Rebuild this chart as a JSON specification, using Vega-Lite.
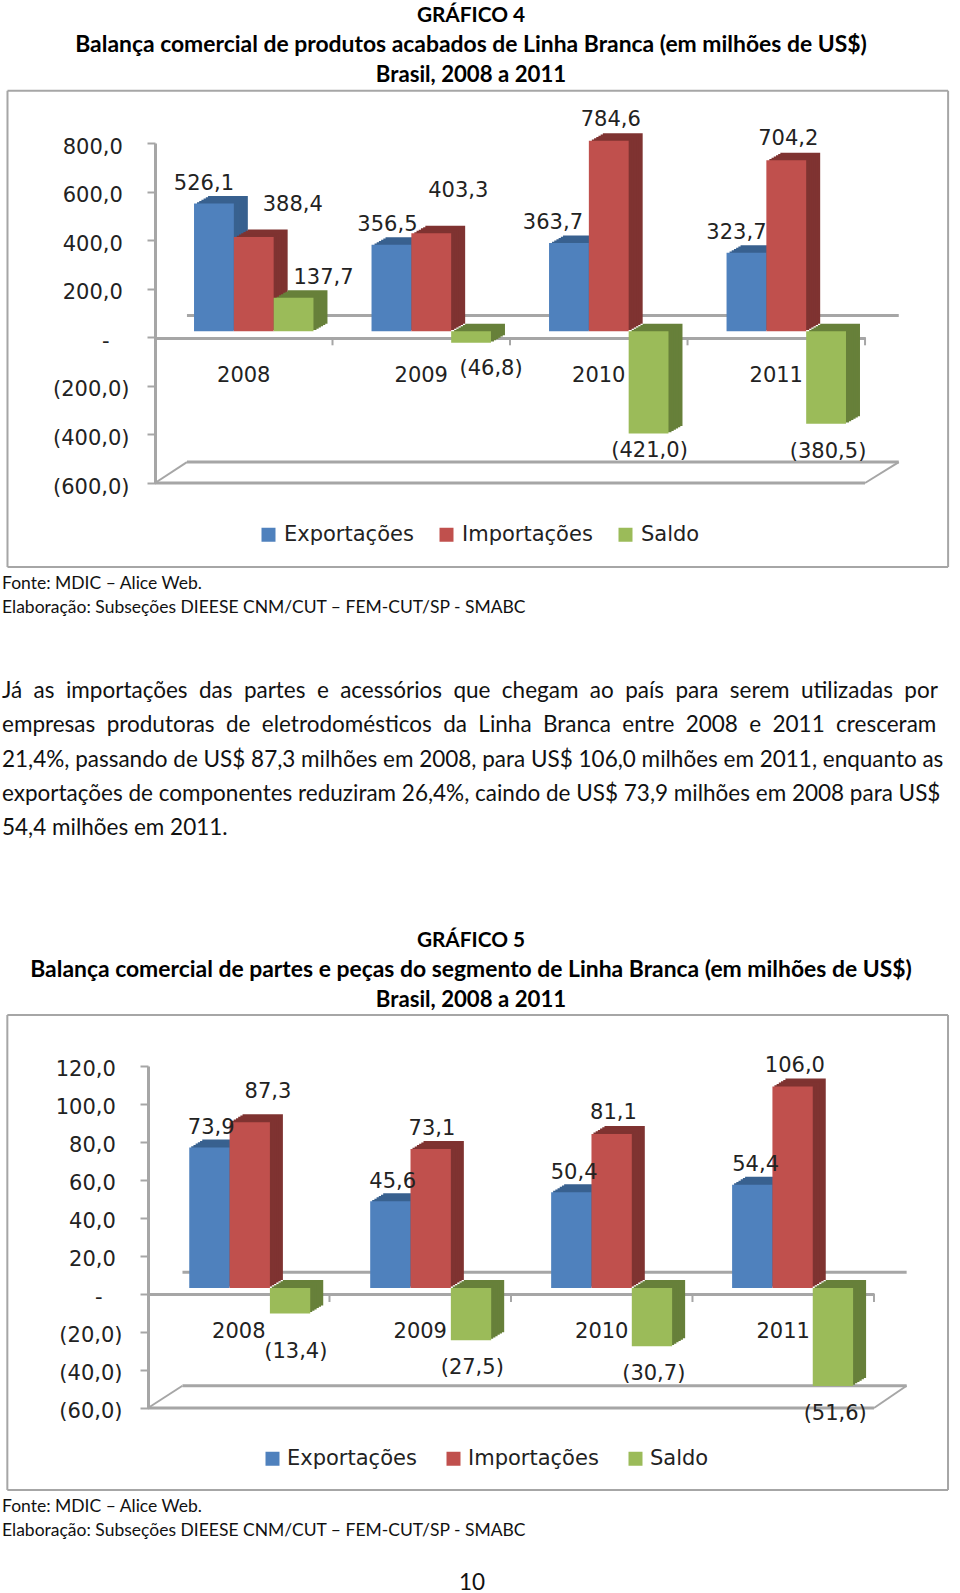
{"$schema":"https://vega.github.io/schema/vega-lite/v6.json","padding":0,"spacing":0,"bounds":"flush","background":"white","config":{"view":{"stroke":null},"concat":{"spacing":0}},
"datasets":{
"g4":[{"ano":"2008","serie":"Exportações","valor":526.1,"rotulo":"526,1"},{"ano":"2008","serie":"Importações","valor":388.4,"rotulo":"388,4"},{"ano":"2008","serie":"Saldo","valor":137.7,"rotulo":"137,7"},{"ano":"2009","serie":"Exportações","valor":356.5,"rotulo":"356,5"},{"ano":"2009","serie":"Importações","valor":403.3,"rotulo":"403,3"},{"ano":"2009","serie":"Saldo","valor":-46.8,"rotulo":"(46,8)"},{"ano":"2010","serie":"Exportações","valor":363.7,"rotulo":"363,7"},{"ano":"2010","serie":"Importações","valor":784.6,"rotulo":"784,6"},{"ano":"2010","serie":"Saldo","valor":-421.0,"rotulo":"(421,0)"},{"ano":"2011","serie":"Exportações","valor":323.7,"rotulo":"323,7"},{"ano":"2011","serie":"Importações","valor":704.2,"rotulo":"704,2"},{"ano":"2011","serie":"Saldo","valor":-380.5,"rotulo":"(380,5)"}],
"g5":[{"ano":"2008","serie":"Exportações","valor":73.9,"rotulo":"73,9"},{"ano":"2008","serie":"Importações","valor":87.3,"rotulo":"87,3"},{"ano":"2008","serie":"Saldo","valor":-13.4,"rotulo":"(13,4)"},{"ano":"2009","serie":"Exportações","valor":45.6,"rotulo":"45,6"},{"ano":"2009","serie":"Importações","valor":73.1,"rotulo":"73,1"},{"ano":"2009","serie":"Saldo","valor":-27.5,"rotulo":"(27,5)"},{"ano":"2010","serie":"Exportações","valor":50.4,"rotulo":"50,4"},{"ano":"2010","serie":"Importações","valor":81.1,"rotulo":"81,1"},{"ano":"2010","serie":"Saldo","valor":-30.7,"rotulo":"(30,7)"},{"ano":"2011","serie":"Exportações","valor":54.4,"rotulo":"54,4"},{"ano":"2011","serie":"Importações","valor":106.0,"rotulo":"106,0"},{"ano":"2011","serie":"Saldo","valor":-51.6,"rotulo":"(51,6)"}],
"quadro4":[{"u":-0.831,"u2":4.468,"v":1015,"v2":1015},{"u":-0.831,"u2":4.468,"v":-946,"v2":-946},{"u":-0.831,"u2":-0.831,"v":1015,"v2":-946},{"u":4.468,"u2":4.468,"v":1015,"v2":-946},{"u":0,"u2":0,"v":0,"v2":-33},{"u":1,"u2":1,"v":0,"v2":-33},{"u":2,"u2":2,"v":0,"v2":-33},{"u":3,"u2":3,"v":0,"v2":-33},{"u":4,"u2":4,"v":0,"v2":-33},{"u":0,"u2":0.18,"v":-600,"v2":-514},{"u":4,"u2":4.19,"v":-600,"v2":-514}],
"piso4":[{"u":0.18,"u2":4.19,"v":90,"v2":90},{"u":0,"u2":4,"v":-600,"v2":-600},{"u":0.18,"u2":4.19,"v":-514,"v2":-514}],
"quadro5":[{"u":-0.775,"u2":4.408,"v":146.8,"v2":146.8},{"u":-0.775,"u2":4.408,"v":-103.2,"v2":-103.2},{"u":-0.775,"u2":-0.775,"v":146.8,"v2":-103.2},{"u":4.408,"u2":4.408,"v":146.8,"v2":-103.2},{"u":0,"u2":0,"v":0,"v2":-4.2},{"u":1,"u2":1,"v":0,"v2":-4.2},{"u":2,"u2":2,"v":0,"v2":-4.2},{"u":3,"u2":3,"v":0,"v2":-4.2},{"u":4,"u2":4,"v":0,"v2":-4.2},{"u":0,"u2":0.19,"v":-60,"v2":-48.3},{"u":4,"u2":4.18,"v":-60,"v2":-48.3}],
"piso5":[{"u":0.19,"u2":4.18,"v":11.4,"v2":11.4},{"u":0,"u2":4,"v":-60,"v2":-60},{"u":0.19,"u2":4.18,"v":-48.3,"v2":-48.3}]
},
"vconcat":[
{"width":960,"height":88,"data":{"values":[{"n":1,"t":"GRÁFICO 4"},{"n":2,"t":"Balança comercial de produtos acabados de Linha Branca (em milhões de US$)"},{"n":3,"t":"Brasil, 2008 a 2011"}]},"mark":{"type":"text","font":"Lato","fontWeight":"bold","fontSize":{"expr":"datum.n==2?22.9:(datum.n==1?20.8:22.2)"},"align":"center","baseline":"middle","color":"#000"},"encoding":{"x":{"datum":0.5,"type":"quantitative","axis":null,"scale":{"domain":[0,1],"range":[0,942]}},"y":{"field":"n","type":"ordinal","axis":null,"scale":{"type":"point","padding":0,"range":[15.5,75]}},"text":{"field":"t"}}},
{"width":960,"height":482,"resolve":{"scale":{"x":"independent"}},"layer":[
{"encoding":{"x":{"field":"u","type":"quantitative","axis":null,"scale":{"domain":[-0.8732,4.535],"range":[0,960]}},"x2":{"field":"u2"},"y":{"field":"v","type":"quantitative","title":null,"scale":{"domain":[-600,800],"range":[395,55],"nice":false,"zero":false},"axis":{"orient":"left","offset":-155,"values":[-600,-400,-200,0,200,400,600,800],"grid":false,"labelFont":"DejaVu Sans","labelFontSize":21,"labelColor":"#222","labelPadding":18,"labelOffset":4,"tickSize":8,"tickWidth":2,"tickColor":"#a6a6a6","domainColor":"#a6a6a6","domainWidth":3,"labelExpr":"datum.value==0?'-\u00a0\u00a0\u00a0\u200b':(datum.value<0?'('+replace(format(-datum.value,'.1f'),'.',',')+')':replace(format(datum.value,'.1f'),'.',',')+'\u00a0\u200b')"}},"y2":{"field":"v2"}},
"layer":[
{"data":{"name":"quadro4"},"mark":{"type":"rule","color":"#a6a6a6","strokeWidth":2}},
{"data":{"name":"piso4"},"mark":{"type":"rule","color":"#a6a6a6","strokeWidth":3}},
{"data":{"name":"g4"},"transform":[{"calculate":"toNumber(datum.ano)-2008+0.1635+0.2243*indexof(['Exportações','Importações','Saldo'],datum.serie)","as":"u"},{"calculate":"datum.u+0.2243","as":"u2"},{"calculate":"datum.valor","as":"v"},{"calculate":"0","as":"v2"}],
"resolve":{"scale":{"color":"independent"}},
"layer":[
{"mark":{"type":"bar","xOffset":24,"x2Offset":24,"yOffset":-13.5,"y2Offset":-13.5},"encoding":{"color":{"field":"serie","type":"nominal","legend":null,"scale":{"domain":["Exportações","Importações","Saldo"],"range":["#38618f","#7f3331","#67803a"]}}}},
{"mark":{"type":"bar","xOffset":21.8,"x2Offset":21.8,"yOffset":-12.2,"y2Offset":-12.2},"encoding":{"color":{"field":"serie","type":"nominal","legend":null,"scale":{"domain":["Exportações","Importações","Saldo"],"range":["#38618f","#7f3331","#67803a"]}}}},
{"mark":{"type":"bar","xOffset":19.6,"x2Offset":19.6,"yOffset":-11,"y2Offset":-11},"encoding":{"color":{"field":"serie","type":"nominal","legend":null,"scale":{"domain":["Exportações","Importações","Saldo"],"range":["#38618f","#7f3331","#67803a"]}}}},
{"mark":{"type":"bar","xOffset":17.4,"x2Offset":17.4,"yOffset":-9.7,"y2Offset":-9.7},"encoding":{"color":{"field":"serie","type":"nominal","legend":null,"scale":{"domain":["Exportações","Importações","Saldo"],"range":["#38618f","#7f3331","#67803a"]}}}},
{"mark":{"type":"bar","xOffset":15.2,"x2Offset":15.2,"yOffset":-8.5,"y2Offset":-8.5},"encoding":{"color":{"field":"serie","type":"nominal","legend":null,"scale":{"domain":["Exportações","Importações","Saldo"],"range":["#38618f","#7f3331","#67803a"]}}}},
{"mark":{"type":"bar","xOffset":13,"x2Offset":13,"yOffset":-7.2,"y2Offset":-7.2},"encoding":{"color":{"field":"serie","type":"nominal","legend":null,"scale":{"domain":["Exportações","Importações","Saldo"],"range":["#38618f","#7f3331","#67803a"]}}}},
{"mark":{"type":"bar","xOffset":10,"x2Offset":10,"yOffset":-6,"y2Offset":-6},"encoding":{"color":{"field":"serie","type":"nominal","title":null,"scale":{"domain":["Exportações","Importações","Saldo"],"range":["#4f81bd","#c0504d","#9bbb59"]},"legend":{"orient":"none","legendX":258,"legendY":436,"direction":"horizontal","symbolType":"square","symbolSize":196,"symbolStrokeWidth":0,"labelFont":"DejaVu Sans","labelFontSize":21,"labelColor":"#222","labelOffset":5,"columnPadding":22,"padding":0}}}}
]}
]},
{"data":{"name":"g4"},"encoding":{"x":{"field":"ano","type":"nominal","title":null,"scale":{"type":"band","range":[155,865],"paddingInner":0.327,"paddingOuter":0.1635},"axis":{"orient":"bottom","offset":-232,"labelAngle":0,"labelFont":"DejaVu Sans","labelFontSize":21,"labelColor":"#222","labelPadding":18,"tickSize":8,"tickOpacity":0,"domainColor":"#a6a6a6","domainWidth":3}},"xOffset":{"field":"serie","type":"nominal","scale":{"type":"band","paddingInner":0,"paddingOuter":0}},"y":{"field":"valor","type":"quantitative","title":null,"scale":{"domain":[-600,800],"range":[395,55],"nice":false,"zero":false},"axis":{"orient":"left","offset":-155,"values":[-600,-400,-200,0,200,400,600,800],"grid":false,"labelFont":"DejaVu Sans","labelFontSize":21,"labelColor":"#222","labelPadding":18,"labelOffset":4,"tickSize":8,"tickWidth":2,"tickColor":"#a6a6a6","domainColor":"#a6a6a6","domainWidth":3,"labelExpr":"datum.value==0?'-\u00a0\u00a0\u00a0\u200b':(datum.value<0?'('+replace(format(-datum.value,'.1f'),'.',',')+')':replace(format(datum.value,'.1f'),'.',',')+'\u00a0\u200b')"}},"text":{"field":"rotulo"}},
"layer":[
{"transform":[{"filter":"datum.ano=='2008'&&datum.serie=='Exportações'||datum.ano=='2011'&&datum.serie=='Exportações'"}],"mark":{"type":"text","font":"DejaVu Sans","fontSize":21,"color":"#222","baseline":"middle","dx":0,"dy":-26}},
{"transform":[{"filter":"datum.ano=='2009'&&datum.serie=='Exportações'"}],"mark":{"type":"text","font":"DejaVu Sans","fontSize":21,"color":"#222","baseline":"middle","dx":6,"dy":-26}},
{"transform":[{"filter":"datum.ano=='2010'&&datum.serie=='Exportações'"}],"mark":{"type":"text","font":"DejaVu Sans","fontSize":21,"color":"#222","baseline":"middle","dx":-6,"dy":-26}},
{"transform":[{"filter":"datum.ano=='2008'&&datum.serie=='Importações'"}],"mark":{"type":"text","font":"DejaVu Sans","fontSize":21,"color":"#222","baseline":"middle","dx":49,"dy":-38}},
{"transform":[{"filter":"datum.ano=='2009'&&datum.serie=='Importações'"}],"mark":{"type":"text","font":"DejaVu Sans","fontSize":21,"color":"#222","baseline":"middle","dx":37,"dy":-48}},
{"transform":[{"filter":"(datum.ano=='2010'||datum.ano=='2011')&&datum.serie=='Importações'"}],"mark":{"type":"text","font":"DejaVu Sans","fontSize":21,"color":"#222","baseline":"middle","dx":12,"dy":-27}},
{"transform":[{"filter":"datum.ano=='2008'&&datum.serie=='Saldo'"}],"mark":{"type":"text","font":"DejaVu Sans","fontSize":21,"color":"#222","baseline":"middle","dx":40,"dy":-26}},
{"transform":[{"filter":"datum.ano=='2009'&&datum.serie=='Saldo'"}],"mark":{"type":"text","font":"DejaVu Sans","fontSize":21,"color":"#222","baseline":"middle","dx":30,"dy":20}},
{"transform":[{"filter":"datum.ano=='2010'&&datum.serie=='Saldo'"}],"mark":{"type":"text","font":"DejaVu Sans","fontSize":21,"color":"#222","baseline":"middle","dx":11,"dy":11}},
{"transform":[{"filter":"datum.ano=='2011'&&datum.serie=='Saldo'"}],"mark":{"type":"text","font":"DejaVu Sans","fontSize":21,"color":"#222","baseline":"middle","dx":12,"dy":22}}
]}
]},
{"width":960,"height":48,"data":{"values":[{"n":1,"t":"Fonte: MDIC – Alice Web."},{"n":2,"t":"Elaboração: Subseções DIEESE CNM/CUT – FEM-CUT/SP - SMABC"}]},"mark":{"type":"text","font":"Lato","fontSize":17.5,"align":"left","baseline":"middle","color":"#111"},"encoding":{"x":{"datum":0,"type":"quantitative","axis":null,"scale":{"domain":[0,1],"range":[2,960]}},"y":{"field":"n","type":"ordinal","axis":null,"scale":{"type":"point","padding":0,"range":[14,38]}},"text":{"field":"t"}}},
{"width":960,"height":232,"data":{"values":[{"n":1,"t":"Já \u2005as \u2005importações \u2005das \u2005partes \u2005e \u2005acessórios \u2005que \u2005chegam \u2005ao \u2005país \u2005para \u2005serem \u2005utilizadas \u2005por"},{"n":2,"t":"empresas \u2005produtoras \u2005de \u2005eletrodomésticos \u2005da \u2005Linha \u2005Branca \u2005entre \u20052008 \u2005e \u20052011 \u2005cresceram"},{"n":3,"t":"21,4%, passando de US$ 87,3 milhões em 2008, para US$ 106,0 milhões em 2011, enquanto as"},{"n":4,"t":"exportações de componentes reduziram 26,4%, caindo de US$ 73,9 milhões em 2008 para US$"},{"n":5,"t":"54,4 milhões em 2011."}]},"mark":{"type":"text","font":"Lato","fontSize":22.5,"align":"left","baseline":"middle","color":"#111"},"encoding":{"x":{"datum":0,"type":"quantitative","axis":null,"scale":{"domain":[0,1],"range":[2,960]}},"y":{"field":"n","type":"ordinal","axis":null,"scale":{"type":"point","padding":0,"range":[73,210]}},"text":{"field":"t"}}},
{"width":960,"height":163,"data":{"values":[{"n":1,"t":"GRÁFICO 5"},{"n":2,"t":"Balança comercial de partes e peças do segmento de Linha Branca (em milhões de US$)"},{"n":3,"t":"Brasil, 2008 a 2011"}]},"mark":{"type":"text","font":"Lato","fontWeight":"bold","fontSize":{"expr":"datum.n==2?22.9:(datum.n==1?20.8:22.2)"},"align":"center","baseline":"middle","color":"#000"},"encoding":{"x":{"datum":0.5,"type":"quantitative","axis":null,"scale":{"domain":[0,1],"range":[0,942]}},"y":{"field":"n","type":"ordinal","axis":null,"scale":{"type":"point","padding":0,"range":[90.5,150]}},"text":{"field":"t"}}},
{"width":960,"height":480,"resolve":{"scale":{"x":"independent"}},"layer":[
{"encoding":{"x":{"field":"u","type":"quantitative","axis":null,"scale":{"domain":[-0.8154,4.474],"range":[0,960]}},"x2":{"field":"u2"},"y":{"field":"v","type":"quantitative","title":null,"scale":{"domain":[-60,120],"range":[395,53],"nice":false,"zero":false},"axis":{"orient":"left","offset":-148,"values":[-60,-40,-20,0,20,40,60,80,100,120],"grid":false,"labelFont":"DejaVu Sans","labelFontSize":21,"labelColor":"#222","labelPadding":18,"labelOffset":3,"tickSize":8,"tickWidth":2,"tickColor":"#a6a6a6","domainColor":"#a6a6a6","domainWidth":3,"labelExpr":"datum.value==0?'-\u00a0\u00a0\u00a0\u200b':(datum.value<0?'('+replace(format(-datum.value,'.1f'),'.',',')+')':replace(format(datum.value,'.1f'),'.',',')+'\u00a0\u200b')"}},"y2":{"field":"v2"}},
"layer":[
{"data":{"name":"quadro5"},"mark":{"type":"rule","color":"#a6a6a6","strokeWidth":2}},
{"data":{"name":"piso5"},"mark":{"type":"rule","color":"#a6a6a6","strokeWidth":3}},
{"data":{"name":"g5"},"transform":[{"calculate":"(toNumber(datum.ano)-2008)*0.997+0.1667+0.2222*indexof(['Exportações','Importações','Saldo'],datum.serie)","as":"u"},{"calculate":"datum.u+0.2222","as":"u2"},{"calculate":"datum.valor","as":"v"},{"calculate":"0","as":"v2"}],
"resolve":{"scale":{"color":"independent"}},
"layer":[
{"mark":{"type":"bar","xOffset":24,"x2Offset":24,"yOffset":-14,"y2Offset":-14},"encoding":{"color":{"field":"serie","type":"nominal","legend":null,"scale":{"domain":["Exportações","Importações","Saldo"],"range":["#38618f","#7f3331","#67803a"]}}}},
{"mark":{"type":"bar","xOffset":21.8,"x2Offset":21.8,"yOffset":-12.7,"y2Offset":-12.7},"encoding":{"color":{"field":"serie","type":"nominal","legend":null,"scale":{"domain":["Exportações","Importações","Saldo"],"range":["#38618f","#7f3331","#67803a"]}}}},
{"mark":{"type":"bar","xOffset":19.6,"x2Offset":19.6,"yOffset":-11.4,"y2Offset":-11.4},"encoding":{"color":{"field":"serie","type":"nominal","legend":null,"scale":{"domain":["Exportações","Importações","Saldo"],"range":["#38618f","#7f3331","#67803a"]}}}},
{"mark":{"type":"bar","xOffset":17.4,"x2Offset":17.4,"yOffset":-10,"y2Offset":-10},"encoding":{"color":{"field":"serie","type":"nominal","legend":null,"scale":{"domain":["Exportações","Importações","Saldo"],"range":["#38618f","#7f3331","#67803a"]}}}},
{"mark":{"type":"bar","xOffset":15.2,"x2Offset":15.2,"yOffset":-8.7,"y2Offset":-8.7},"encoding":{"color":{"field":"serie","type":"nominal","legend":null,"scale":{"domain":["Exportações","Importações","Saldo"],"range":["#38618f","#7f3331","#67803a"]}}}},
{"mark":{"type":"bar","xOffset":13,"x2Offset":13,"yOffset":-7.4,"y2Offset":-7.4},"encoding":{"color":{"field":"serie","type":"nominal","legend":null,"scale":{"domain":["Exportações","Importações","Saldo"],"range":["#38618f","#7f3331","#67803a"]}}}},
{"mark":{"type":"bar","xOffset":11,"x2Offset":11,"yOffset":-6,"y2Offset":-6},"encoding":{"color":{"field":"serie","type":"nominal","title":null,"scale":{"domain":["Exportações","Importações","Saldo"],"range":["#4f81bd","#c0504d","#9bbb59"]},"legend":{"orient":"none","legendX":262,"legendY":435,"direction":"horizontal","symbolType":"square","symbolSize":196,"symbolStrokeWidth":0,"labelFont":"DejaVu Sans","labelFontSize":21,"labelColor":"#222","labelOffset":4,"columnPadding":26,"padding":0}}}}
]}
]},
{"data":{"name":"g5"},"encoding":{"x":{"field":"ano","type":"nominal","title":null,"scale":{"type":"band","range":[148,874],"paddingInner":0.333,"paddingOuter":0.1667},"axis":{"orient":"bottom","offset":-199,"labelAngle":0,"labelFont":"DejaVu Sans","labelFontSize":21,"labelColor":"#222","labelPadding":18,"tickSize":8,"tickOpacity":0,"domainColor":"#a6a6a6","domainWidth":3}},"xOffset":{"field":"serie","type":"nominal","scale":{"type":"band","paddingInner":0,"paddingOuter":0}},"y":{"field":"valor","type":"quantitative","title":null,"scale":{"domain":[-60,120],"range":[395,53],"nice":false,"zero":false},"axis":{"orient":"left","offset":-148,"values":[-60,-40,-20,0,20,40,60,80,100,120],"grid":false,"labelFont":"DejaVu Sans","labelFontSize":21,"labelColor":"#222","labelPadding":18,"labelOffset":3,"tickSize":8,"tickWidth":2,"tickColor":"#a6a6a6","domainColor":"#a6a6a6","domainWidth":3,"labelExpr":"datum.value==0?'-\u00a0\u00a0\u00a0\u200b':(datum.value<0?'('+replace(format(-datum.value,'.1f'),'.',',')+')':replace(format(datum.value,'.1f'),'.',',')+'\u00a0\u200b')"}},"text":{"field":"rotulo"}},
"layer":[
{"transform":[{"filter":"datum.serie=='Exportações'"}],"mark":{"type":"text","font":"DejaVu Sans","fontSize":21,"color":"#222","baseline":"middle","dx":13,"dy":-25.5}},
{"transform":[{"filter":"datum.serie=='Importações'&&datum.ano=='2008'"}],"mark":{"type":"text","font":"DejaVu Sans","fontSize":21,"color":"#222","baseline":"middle","dx":30,"dy":-36.5}},
{"transform":[{"filter":"datum.serie=='Importações'&&datum.ano!='2008'"}],"mark":{"type":"text","font":"DejaVu Sans","fontSize":21,"color":"#222","baseline":"middle","dx":12.5,"dy":-26.5}},
{"transform":[{"filter":"datum.serie=='Saldo'&&datum.ano=='2008'"}],"mark":{"type":"text","font":"DejaVu Sans","fontSize":21,"color":"#222","baseline":"middle","dx":18,"dy":33}},
{"transform":[{"filter":"datum.serie=='Saldo'&&datum.ano!='2008'"}],"mark":{"type":"text","font":"DejaVu Sans","fontSize":21,"color":"#222","baseline":"middle","dx":13,"dy":21.5}}
]}
]},
{"width":960,"height":60,"data":{"values":[{"n":1,"t":"Fonte: MDIC – Alice Web."},{"n":2,"t":"Elaboração: Subseções DIEESE CNM/CUT – FEM-CUT/SP - SMABC"}]},"mark":{"type":"text","font":"Lato","fontSize":17.5,"align":"left","baseline":"middle","color":"#111"},"encoding":{"x":{"datum":0,"type":"quantitative","axis":null,"scale":{"domain":[0,1],"range":[2,960]}},"y":{"field":"n","type":"ordinal","axis":null,"scale":{"type":"point","padding":0,"range":[14,38]}},"text":{"field":"t"}}},
{"width":960,"height":40,"data":{"values":[{"n":1,"t":"10"}]},"mark":{"type":"text","font":"Lato","fontSize":22.5,"align":"center","baseline":"middle","color":"#111"},"encoding":{"x":{"datum":0.5,"type":"quantitative","axis":null,"scale":{"domain":[0,1],"range":[0,944]}},"y":{"field":"n","type":"ordinal","axis":null,"scale":{"type":"point","padding":0,"range":[30,30]}},"text":{"field":"t"}}}
]}
